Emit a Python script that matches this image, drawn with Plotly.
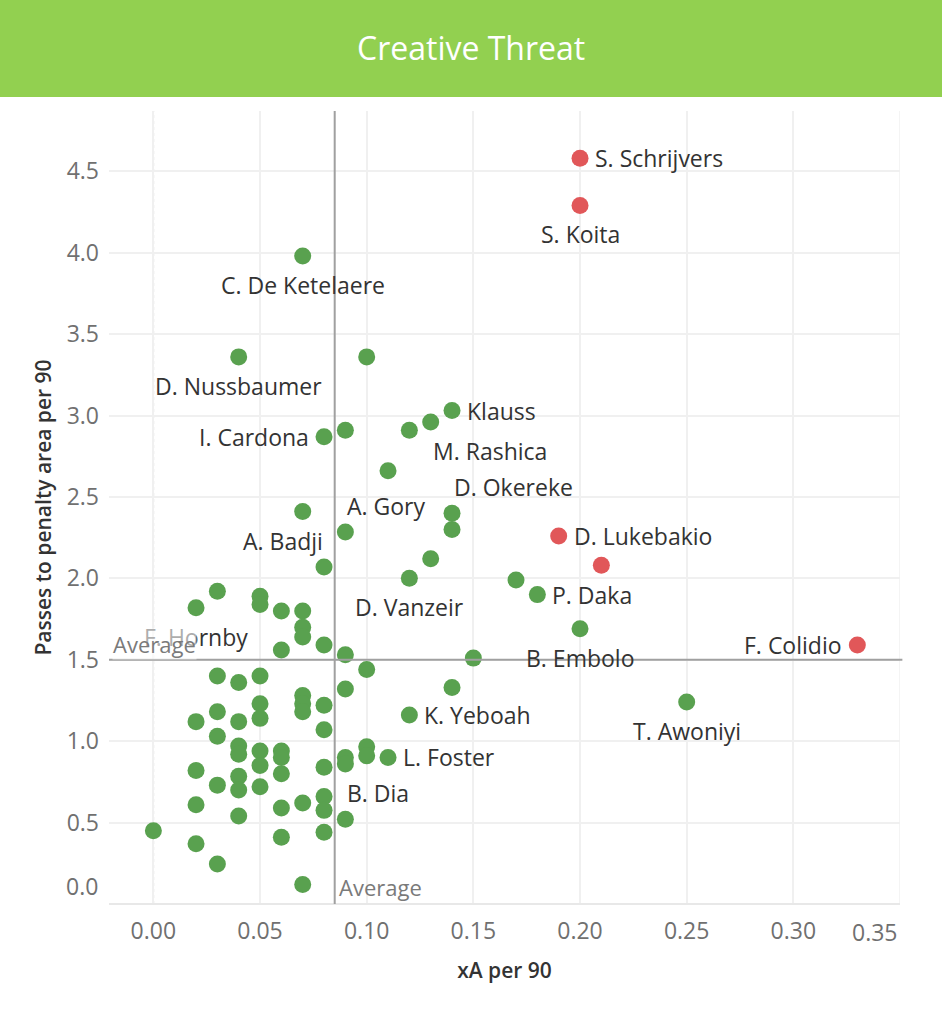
import plotly.graph_objects as go

# ---------------- data ----------------
green_x = [0.07, 0.04, 0.10, 0.14, 0.13, 0.12, 0.09, 0.08, 0.11, 0.07,
           0.14, 0.14, 0.09, 0.13, 0.08, 0.12, 0.17, 0.18, 0.20, 0.15,
           0.25, 0.12, 0.14,
           0.03, 0.02, 0.05, 0.05, 0.06, 0.07, 0.07, 0.07, 0.08, 0.06,
           0.09, 0.10, 0.03, 0.04, 0.05, 0.09, 0.07, 0.07, 0.07, 0.08,
           0.05, 0.05, 0.03, 0.02, 0.04, 0.08, 0.03, 0.04, 0.04, 0.05,
           0.05, 0.06, 0.06, 0.09, 0.09, 0.10, 0.10, 0.11, 0.02, 0.04,
           0.04, 0.06, 0.08, 0.03, 0.05, 0.08, 0.08, 0.07, 0.06, 0.02,
           0.04, 0.09, 0.00, 0.08, 0.06, 0.02, 0.03, 0.07]
green_y = [3.98, 3.36, 3.36, 3.03, 2.96, 2.91, 2.91, 2.87, 2.66, 2.41,
           2.40, 2.30, 2.285, 2.12, 2.07, 2.00, 1.99, 1.90, 1.69, 1.51,
           1.24, 1.16, 1.33,
           1.92, 1.82, 1.89, 1.84, 1.80, 1.80, 1.70, 1.64, 1.59, 1.56,
           1.53, 1.44, 1.40, 1.36, 1.40, 1.32, 1.28, 1.23, 1.18, 1.22,
           1.23, 1.14, 1.18, 1.12, 1.12, 1.07, 1.03, 0.97, 0.92, 0.94,
           0.85, 0.94, 0.90, 0.90, 0.86, 0.965, 0.91, 0.90, 0.82, 0.785,
           0.70, 0.80, 0.84, 0.73, 0.72, 0.66, 0.575, 0.62, 0.59, 0.61,
           0.54, 0.52, 0.45, 0.44, 0.41, 0.37, 0.245, 0.12]

red_x = [0.20, 0.20, 0.19, 0.21, 0.33]
red_y = [4.58, 4.29, 2.26, 2.08, 1.59]

label_names = ["S. Schrijvers", "S. Koita", "C. De Ketelaere", "D. Nussbaumer",
               "Klauss", "M. Rashica", "I. Cardona", "D. Okereke", "A. Gory",
               "A. Badji", "D. Lukebakio", "D. Vanzeir", "P. Daka", "F. Hornby",
               "B. Embolo", "F. Colidio", "T. Awoniyi", "K. Yeboah", "L. Foster",
               "B. Dia"]
label_x = [0.20, 0.20, 0.07, 0.04, 0.14, 0.13, 0.08, 0.14, 0.09, 0.08,
           0.19, 0.12, 0.18, 0.02, 0.20, 0.33, 0.25, 0.12, 0.11, 0.09]
label_y = [4.58, 4.29, 3.98, 3.36, 3.03, 2.96, 2.87, 2.40, 2.285, 2.07,
           2.26, 2.00, 1.90, 1.82, 1.69, 1.59, 1.24, 1.16, 0.90, 0.86]

avg_x = 0.085
avg_y = 1.5

x_tick_vals = [0.00, 0.05, 0.10, 0.15, 0.20, 0.25, 0.30, 0.35]
x_tick_text = ["0.00", "0.05", "0.10", "0.15", "0.20", "0.25", "0.30", "0.35"]
y_tick_vals = [0.0, 0.5, 1.0, 1.5, 2.0, 2.5, 3.0, 3.5, 4.0, 4.5]
y_tick_text = ["0.0", "0.5", "1.0", "1.5", "2.0", "2.5", "3.0", "3.5", "4.0", "4.5"]

title_text = "Creative Threat"
x_title = "xA per 90"
y_title = "Passes to penalty area per 90"

# ---------------- styling ----------------
GREEN = "#59a14f"
RED = "#e15759"
BAR = "#92d050"
FONT = "Open Sans"
LABEL_COLOR = "#333333"
TICK_COLOR = "#707070"
GRID = "#f0f0f0"
LABEL_SIZE = 23
TICK_SIZE = 23

W, H = 942, 1009
ML, MR, MT, MB = 109, 42, 111, 105
PW, PH = W - ML - MR, H - MT - MB


def px_to_paper_y(py):
    return (H - MB - py) / PH


def px_to_paper_x(px):
    return (px - ML) / PW


# label placement: (xanchor, xshift, yshift)
placement = {
    "right": ("left", 13, 0),
    "left": ("right", -13, 0),
    "below": ("center", 0, -29),
    "top-right": ("left", 0, 26),
    "top-left": ("right", 1, 26),
    "bottom-right": ("left", 0, -29),
}
label_pos = ["right", "below", "below", "below", "right", "bottom-right", "left",
             "top-right", "top-right", "top-left", "right", "below", "right",
             "below", "below", "left", "below", "right", "right", "bottom-right"]

fig = go.Figure()

fig.add_trace(go.Scatter(x=green_x, y=green_y, mode="markers",
                         marker=dict(size=17, color=GREEN, line=dict(width=0)),
                         hoverinfo="skip", showlegend=False, cliponaxis=False))
fig.add_trace(go.Scatter(x=red_x, y=red_y, mode="markers",
                         marker=dict(size=17, color=RED, line=dict(width=0)),
                         hoverinfo="skip", showlegend=False, cliponaxis=False))

shapes = []
# title bar
shapes.append(dict(type="rect", xref="paper", yref="paper",
                   x0=-0.2, x1=1.2, y0=px_to_paper_y(97), y1=px_to_paper_y(-20),
                   fillcolor=BAR, line=dict(width=0), layer="above"))
# dotted zero line
shapes.append(dict(type="line", xref="x", yref="paper", x0=0, x1=0, y0=0, y1=1,
                   line=dict(color="#c4c4c4", width=1.5, dash="dot"), layer="below"))
# rightmost grid line at 0.35 (plot edge)
shapes.append(dict(type="line", xref="x", yref="paper", x0=0.35, x1=0.35, y0=0, y1=1,
                   line=dict(color=GRID, width=1.5), layer="below"))
# average lines
shapes.append(dict(type="line", xref="x", yref="paper", x0=avg_x, x1=avg_x, y0=0, y1=1,
                   line=dict(color="#a0a0a0", width=2), layer="above"))
shapes.append(dict(type="line", xref="paper", yref="y", x0=0, x1=1.003, y0=avg_y, y1=avg_y,
                   line=dict(color="#a0a0a0", width=2), layer="above"))

annotations = []
for name, lx, ly, pos in zip(label_names, label_x, label_y, label_pos):
    xa, xs, ys = placement[pos]
    annotations.append(dict(x=lx, y=ly, xref="x", yref="y", text=name,
                            showarrow=False, xanchor=xa, yanchor="middle",
                            xshift=xs, yshift=ys,
                            font=dict(family=FONT, size=LABEL_SIZE, color=LABEL_COLOR)))

# average labels
annotations.append(dict(x=0, y=avg_y, xref="paper", yref="y", text="Average",
                        showarrow=False, xanchor="left", yanchor="bottom",
                        xshift=3, yshift=0, bgcolor="rgba(255,255,255,0.6)", borderpad=0,
                        font=dict(family=FONT, size=LABEL_SIZE - 1, color="#7a7a7a")))
annotations.append(dict(x=avg_x, y=0, xref="x", yref="paper", text="Average",
                        showarrow=False, xanchor="left", yanchor="bottom",
                        xshift=2, yshift=0,
                        font=dict(family=FONT, size=LABEL_SIZE - 1, color="#7a7a7a")))

# title
annotations.append(dict(x=px_to_paper_x(W / 2), y=px_to_paper_y(48), xref="paper", yref="paper",
                        text=title_text, showarrow=False, xanchor="center", yanchor="middle",
                        font=dict(family=FONT, size=32, color="white")))

# end tick labels pushed inside the axis extent (like the original)
annotations.append(dict(x=0, y=0, xref="paper", yref="paper", text=y_tick_text[0],
                        showarrow=False, xanchor="right", yanchor="bottom",
                        xshift=-9, yshift=0,
                        font=dict(family=FONT, size=TICK_SIZE, color=TICK_COLOR)))
annotations.append(dict(x=1, y=0, xref="paper", yref="paper", text=x_tick_text[-1],
                        showarrow=False, xanchor="right", yanchor="top",
                        xshift=0, yshift=-10,
                        font=dict(family=FONT, size=TICK_SIZE, color=TICK_COLOR)))

fig.update_layout(
    width=W, height=H,
    margin=dict(l=ML, r=MR, t=MT, b=MB),
    paper_bgcolor="white", plot_bgcolor="white",
    shapes=shapes, annotations=annotations,
    font=dict(family=FONT, color=TICK_COLOR),
)

fig.update_xaxes(range=[-0.0208, 0.35], tickvals=x_tick_vals[:-1], ticktext=x_tick_text[:-1],
                 showgrid=True, gridcolor=GRID, gridwidth=1.5, zeroline=False,
                 showline=False, ticks="", ticklabelstandoff=11,
                 tickfont=dict(family=FONT, size=TICK_SIZE, color=TICK_COLOR),
                 title=dict(text=x_title, standoff=18,
                            font=dict(family=FONT, size=21, color="#333333", weight=600)))
fig.update_yaxes(range=[0, 4.87], tickvals=y_tick_vals[1:], ticktext=y_tick_text[1:],
                 showgrid=True, gridcolor=GRID, gridwidth=1.5, zeroline=True,
                 zerolinecolor="#e8e8e8", zerolinewidth=1.5,
                 showline=False, ticks="", ticklabelstandoff=9,
                 tickfont=dict(family=FONT, size=TICK_SIZE, color=TICK_COLOR),
                 title=dict(text=y_title, standoff=9,
                            font=dict(family=FONT, size=21, color="#333333", weight=600)))

fig.write_html("out.html", config={"displayModeBar": False},
               post_script="document.body.style.margin='0';document.body.style.overflow='hidden';")
